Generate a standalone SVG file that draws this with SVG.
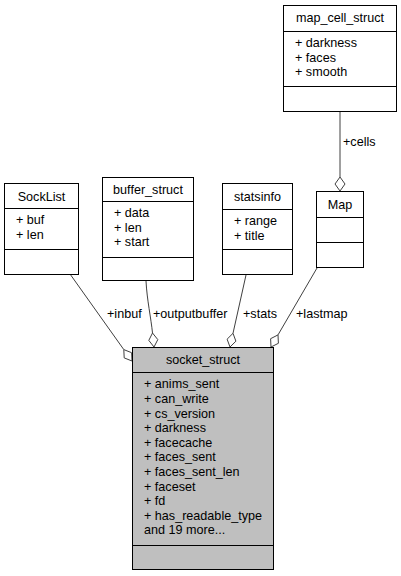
<svg xmlns="http://www.w3.org/2000/svg" width="401" height="576" viewBox="0 0 401 576">
<style>
text{font-family:"Liberation Sans",Arial,Helvetica,sans-serif;font-size:12.6px;fill:#000}
.t{text-anchor:middle}
.box{fill:#fff;stroke:#000;stroke-width:1}
.main{fill:#bfbfbf;stroke:#000;stroke-width:1}
.sep{stroke:#000;stroke-width:1}
.e{fill:none;stroke:#404040;stroke-width:1}
.d{fill:#fff;stroke:#404040;stroke-width:1}
</style>
<rect width="401" height="576" fill="#fff"/>
<g id="connectors">
<path class="e" d="M70,274 L123.8,349.6"/>
<polygon class="d" points="132,361 124.2,357.9 123.8,349.6 131.6,352.7"/>
<text x="107" y="317.5">+inbuf</text>
<path class="e" d="M146,281 C147,300 151,318 152.5,333"/>
<polygon class="d" points="154,347 148.8,340.4 152.5,333 157.8,339.6"/>
<text x="153" y="317.5">+outputbuffer</text>
<path class="e" d="M246,275 L233,333.3"/>
<polygon class="d" points="230,347 227.1,339.2 233,333.3 235.9,341.2"/>
<text x="243" y="317.5">+stats</text>
<path class="e" d="M317,268 L278,334.9"/>
<polygon class="d" points="271,347 270.6,338.7 278,334.9 278.4,343.3"/>
<text x="296" y="317.5">+lastmap</text>
<path class="e" d="M340,112 L340,177"/>
<polygon class="d" points="340,191 335,184 340,177 345,184"/>
<text x="343" y="145.7">+cells</text>
</g>
<g id="SockList">
<rect class="box" x="4.5" y="183.5" width="74" height="91"/>
<line class="sep" x1="4.5" y1="208.5" x2="78.5" y2="208.5"/>
<line class="sep" x1="4.5" y1="249.5" x2="78.5" y2="249.5"/>
<text class="t" x="41.5" y="200.5">SockList</text>
<text x="16" y="224">+ buf</text>
<text x="16" y="238.7">+ len</text>
</g>
<g id="buffer_struct">
<rect class="box" x="102.5" y="177.5" width="91" height="103"/>
<line class="sep" x1="102.5" y1="201.5" x2="193.5" y2="201.5"/>
<line class="sep" x1="102.5" y1="257.5" x2="193.5" y2="257.5"/>
<text class="t" x="148" y="194">buffer_struct</text>
<text x="114" y="217">+ data</text>
<text x="114" y="231.7">+ len</text>
<text x="114" y="246.4">+ start</text>
</g>
<g id="statsinfo">
<rect class="box" x="222.5" y="183.5" width="70" height="91"/>
<line class="sep" x1="222.5" y1="209.5" x2="292.5" y2="209.5"/>
<line class="sep" x1="222.5" y1="249.5" x2="292.5" y2="249.5"/>
<text class="t" x="257.5" y="200.5">statsinfo</text>
<text x="234" y="225">+ range</text>
<text x="234" y="239.7">+ title</text>
</g>
<g id="Map">
<rect class="box" x="316.5" y="191.5" width="47" height="76"/>
<line class="sep" x1="316.5" y1="217.5" x2="363.5" y2="217.5"/>
<line class="sep" x1="316.5" y1="242.5" x2="363.5" y2="242.5"/>
<text class="t" x="340" y="208.5">Map</text>
</g>
<g id="map_cell_struct">
<rect class="box" x="283.5" y="5.5" width="113" height="106"/>
<line class="sep" x1="283.5" y1="31.5" x2="396.5" y2="31.5"/>
<line class="sep" x1="283.5" y1="86.5" x2="396.5" y2="86.5"/>
<text class="t" x="340" y="22">map_cell_struct</text>
<text x="295" y="47">+ darkness</text>
<text x="295" y="61.7">+ faces</text>
<text x="295" y="76.4">+ smooth</text>
</g>
<g id="socket_struct">
<rect class="main" x="132.5" y="347.5" width="141" height="222"/>
<line class="sep" x1="132.5" y1="372.5" x2="273.5" y2="372.5"/>
<line class="sep" x1="132.5" y1="545.5" x2="273.5" y2="545.5"/>
<text class="t" x="203" y="363.5">socket_struct</text>
<text x="144" y="388.3">+ anims_sent</text>
<text x="144" y="402.9">+ can_write</text>
<text x="144" y="417.5">+ cs_version</text>
<text x="144" y="432.1">+ darkness</text>
<text x="144" y="446.7">+ facecache</text>
<text x="144" y="461.3">+ faces_sent</text>
<text x="144" y="475.9">+ faces_sent_len</text>
<text x="144" y="490.5">+ faceset</text>
<text x="144" y="505.1">+ fd</text>
<text x="144" y="519.7">+ has_readable_type</text>
<text x="144" y="534.3">and 19 more...</text>
</g>
</svg>
